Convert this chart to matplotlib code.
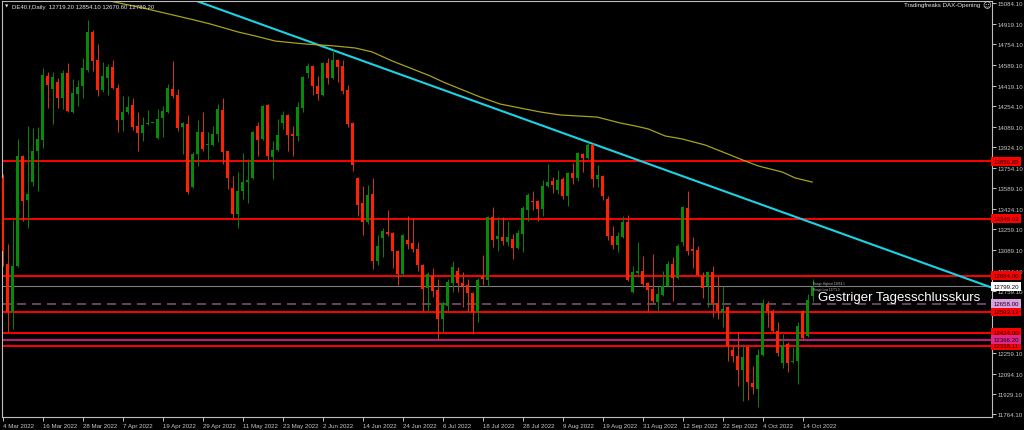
import matplotlib
matplotlib.use('Agg')
import matplotlib.pyplot as plt
import numpy as np
from matplotlib.transforms import blended_transform_factory

plt.rcParams['font.family'] = ['Liberation Sans', 'DejaVu Sans']
plt.rcParams['lines.scale_dashes'] = False

# ---------------- data ----------------
opens = [13674, 12979, 12591, 12963, 13851, 13496, 13641, 13892, 13981, 14498,
         14393, 14449, 14320, 14522, 14207, 14352, 14417, 14546, 14853, 14627,
         14385, 14481, 14570, 14401, 14142, 14207, 14263, 14094, 14037, 14110,
         14118, 13997, 14158, 14207, 14393, 14344, 14086, 14110, 13601, 13868,
         14045, 13940, 13940, 14029, 14223, 13892, 13593, 13383, 13569, 13641,
         13674, 14094, 13989, 14263, 13843, 13900, 14118, 14183, 14029, 14013,
         14239, 14522, 14578, 14417, 14344, 14603, 14481, 14627, 14578, 14385,
         14118, 13674, 13472, 13318, 13544, 13003, 13189, 13237, 13229, 13084,
         12898, 13173, 13149, 13100, 12971, 12785, 12882, 12769, 12535, 12640,
         12825, 12922, 12825, 12809, 12745, 12591, 12882, 12850, 13359, 13181,
         13197, 13157, 13181, 13108, 13221, 13415, 13488, 13488, 13423, 13609,
         13649, 13577, 13666, 13528, 13714, 13674, 13868, 13835, 13940, 13666,
         13690, 13504, 13205, 13132, 13197, 13318, 12753, 12906, 12922, 12825,
         12777, 12672, 12729, 12801, 12979, 12866, 13157, 13431, 13100, 13092,
         12882, 12801, 12914, 12664, 12591, 12632, 12284, 12236, 12123, 12308,
         12018, 11969, 12244, 12656, 12599, 12438, 12179, 12333, 12187, 12195,
         12599, 12397, 12719.2]
highs = [13706, 13140, 13334, 13989, 13860, 14094, 14078, 14086, 14562, 14530,
         14530, 14481, 14546, 14603, 14473, 14465, 14643, 14950, 14869, 14756,
         14611, 14595, 14627, 14433, 14336, 14336, 14320, 14207, 14166, 14223,
         14125, 14231, 14255, 14433, 14619, 14393, 14122, 14183, 13884, 14142,
         14207, 14045, 14094, 14271, 14320, 13895, 13690, 13722, 13876, 13827,
         14053, 14126, 14263, 14271, 13973, 14150, 14215, 14191, 14094, 14288,
         14498, 14603, 14585, 14498, 14611, 14643, 14708, 14635, 14627, 14425,
         14126, 13682, 13609, 13617, 13674, 13213, 13270, 13415, 13237, 13092,
         13221, 13367, 13351, 13157, 12979, 12914, 12947, 12858, 12680, 12858,
         13003, 12955, 12914, 12858, 12753, 12866, 13052, 13367, 13439, 13359,
         13359, 13326, 13221, 13254, 13447, 13552, 13569, 13496, 13658, 13787,
         13682, 13738, 13682, 13722, 13795, 13884, 13876, 13964, 13956, 13779,
         13695, 13528, 13286, 13237, 13367, 13375, 12963, 13157, 13044, 12834,
         13060, 12801, 12922, 13003, 13036, 13141, 13447, 13569, 13197, 13124,
         12914, 12922, 12963, 12882, 12801, 12640, 12317, 12430, 12333, 12317,
         12155, 12292, 12696, 12680, 12615, 12510, 12414, 12349, 12308, 12510,
         12607, 12737, 12854.1]
lows = [12963, 12430, 12454, 12955, 13326, 13270, 13609, 13569, 13916, 14239,
        14110, 14239, 14231, 14207, 14199, 14255, 14320, 14530, 14538, 14336,
        14368, 14344, 14393, 14045, 14053, 14191, 14061, 13892, 13973, 14102,
        14115, 13989, 14005, 14199, 14320, 14053, 13868, 13544, 13593, 13771,
        13892, 13811, 13932, 13964, 13787, 13585, 13351, 13270, 13504, 13472,
        13666, 13851, 13981, 13819, 13666, 13892, 14069, 13892, 13851, 13973,
        14207, 14481, 14344, 14304, 14336, 14433, 14473, 14449, 14352, 14086,
        13730, 13367, 13213, 13302, 12939, 12971, 13036, 13205, 12947, 12809,
        12882, 13100, 13076, 12922, 12599, 12599, 12712, 12373, 12430, 12599,
        12753, 12753, 12632, 12591, 12414, 12510, 12809, 12801, 13116, 13084,
        13132, 13124, 13019, 13100, 13076, 13326, 13415, 13326, 13367, 13601,
        13552, 13544, 13504, 13447, 13625, 13649, 13722, 13827, 13601, 13601,
        13496, 13173, 13100, 13076, 13189, 12842, 12745, 12874, 12793, 12599,
        12664, 12599, 12720, 12793, 12680, 12858, 13124, 13052, 12947, 12882,
        12704, 12632, 12551, 12535, 12470, 12195, 12187, 11993, 11872, 11880,
        11929, 11824, 12236, 12470, 12430, 12236, 12139, 12107, 12179, 12010,
        12365, 12389, 12670.6]
closes = [13084, 12591, 12963, 13851, 13488, 13544, 13892, 13989, 14506, 14425,
          14490, 14320, 14522, 14215, 14360, 14409, 14562, 14853, 14619, 14385,
          14498, 14570, 14401, 14142, 14207, 14247, 14086, 14037, 14102, 14118,
          14122, 14150, 14215, 14401, 14336, 14078, 14118, 13561, 13868, 14045,
          13908, 13948, 14029, 14231, 13884, 13674, 13383, 13569, 13641, 13658,
          14045, 13981, 14255, 13851, 13900, 14021, 14183, 14021, 14013, 14247,
          14490, 14578, 14417, 14352, 14603, 14481, 14627, 14570, 14376, 14110,
          13779, 13456, 13318, 13536, 13003, 13124, 13246, 13221, 13084, 12898,
          13213, 13140, 13100, 12971, 12777, 12898, 12761, 12535, 12656, 12834,
          12955, 12825, 12801, 12745, 12591, 12850, 12858, 13359, 13173, 13205,
          13165, 13197, 13108, 13229, 13431, 13536, 13480, 13423, 13609, 13641,
          13617, 13658, 13528, 13714, 13674, 13876, 13835, 13940, 13666, 13698,
          13528, 13205, 13132, 13205, 13318, 12850, 12914, 12922, 12817, 12769,
          12680, 12737, 12801, 12979, 12866, 13124, 13439, 13084, 13084, 12890,
          12785, 12914, 12664, 12599, 12615, 12317, 12236, 12123, 12228, 12026,
          11985, 12244, 12664, 12599, 12438, 12260, 12325, 12179, 12195, 12478,
          12381, 12688, 12789.2]

xtick_bars = [0, 8, 16, 24, 32, 40, 48, 56, 64, 72, 80, 88, 96, 104, 112, 120,
              128, 136, 144, 152, 160]
xtick_labels = ['4 Mar 2022', '16 Mar 2022', '28 Mar 2022', '7 Apr 2022',
                '19 Apr 2022', '29 Apr 2022', '11 May 2022', '23 May 2022',
                '2 Jun 2022', '14 Jun 2022', '24 Jun 2022', '6 Jul 2022',
                '18 Jul 2022', '28 Jul 2022', '9 Aug 2022', '19 Aug 2022',
                '31 Aug 2022', '12 Sep 2022', '22 Sep 2022', '4 Oct 2022',
                '14 Oct 2022']
ytick_vals = [15084.10, 14919.10, 14754.10, 14589.10, 14419.10, 14254.10,
              14089.10, 13924.10, 13754.10, 13589.10, 13424.10, 13259.10,
              13089.10, 12924.10, 12759.10, 12594.10, 12424.10, 12259.10,
              12094.10, 11929.10, 11764.10]
# tick labels fully covered by level boxes in the reference
ytick_hidden = [12594.10, 12424.10]

# moving average (read points: bar index, price)
ma_bars = [17, 21.5, 28.9, 37.5, 41.5, 47.1, 50.5, 54.5, 60.5, 65.9, 70.5,
           73.9, 77.9, 82.5, 85.5, 88.1, 91.5, 95.5, 99.5, 103.5, 107.5,
           111.5, 114.9, 118.9, 123.5, 126.5, 129.1, 132.5, 135.9, 140.5,
           144.5, 148.5, 151.1, 155.9, 158.5, 161.9]
ma_vals = [15160, 15103, 15039, 14958, 14918, 14853, 14821, 14780, 14756,
           14742, 14724, 14692, 14619, 14546, 14498, 14449, 14393, 14328,
           14271, 14239, 14207, 14183, 14175, 14166, 14118, 14094, 14070,
           14013, 13989, 13940, 13876, 13811, 13771, 13722, 13674, 13641]

# trend line anchors (bar index, price)
trend_bars = [40.46, 197.86]
trend_vals = [15079, 12787.5]

# horizontal levels
red_levels = [13808, 13345.02, 12884.00, 12593.12, 12424.00, 12318.11]
red_level_labels = ['13856.65', '13345.02', '12884.00', '12593.12', '12424.00', '12318.11']
magenta_level = 12366.20
violet_level = 12658.00
bid_level = 12799.20

header = 'DE40.f,Daily  12719.20 12854.10 12670.60 12789.20'

# ---------------- figure ----------------
W, H = 1024, 431
fig = plt.figure(figsize=(W / 100, H / 100), dpi=100, facecolor='black')
L, R, T, B = 2, 992, 1.5, 417.5
ax = fig.add_axes([L / W, 1 - B / H, (R - L) / W, (B - T) / H], facecolor='black')
ax.set_xlim(-0.14, 197.86)
ax.set_ylim(11747.1, 15107.5)

grey = '#BDBDBD'
for s in ax.spines.values():
    s.set_color(grey)
    s.set_linewidth(0.8)

# levels
for lv in red_levels:
    ax.axhline(lv, color='#FF0000', lw=1.4, zorder=1)
ax.axhline(magenta_level, color='#B0226E', lw=1.6, zorder=1)
ax.axhline(bid_level, color='#7F7F7F', lw=0.8, zorder=1)
ax.axhline(violet_level, color='#7A4E7A', lw=1.2, zorder=1, dashes=(6.5, 4.3))

# trend line
ax.axline((trend_bars[0], trend_vals[0]), (trend_bars[1], trend_vals[1]),
          color='#19D3E6', lw=1.5, zorder=2)
# MA
ax.plot(ma_bars, ma_vals, color='#A9A21C', lw=0.9, zorder=2)

# candles
o = np.array(opens); h = np.array(highs); l = np.array(lows); c = np.array(closes)
x = np.arange(len(o))
up = c >= o
wick_cols = np.where(up, '#0A7E0A', '#C9361A')
body_cols = np.where(up, '#078A07', '#FF2200')
ax.vlines(x, l, h, colors=wick_cols, linewidth=0.75, zorder=3)
body_bottom = np.minimum(o, c)
body_h = np.maximum(np.abs(c - o), 7)
ax.bar(x, body_h, bottom=body_bottom, width=0.62, color=body_cols, linewidth=0, zorder=4)

# axes ticks
ax.yaxis.tick_right()
ax.set_yticks(ytick_vals)
ax.set_yticklabels(['' if v in ytick_hidden else f'{v:.2f}' for v in ytick_vals])
ax.tick_params(axis='y', colors='#C8C8C8', labelsize=4.4, length=3, width=0.7, pad=1.2)
ax.set_xticks(xtick_bars)
ax.set_xticklabels(xtick_labels, ha='left')
ax.tick_params(axis='x', colors='#C8C8C8', labelsize=4.4, length=3, width=0.7, pad=1.5)

# price label boxes
tr = blended_transform_factory(ax.transAxes, ax.transData)
xb = 1.0016
def box(val, txt, fc, tc='#1A0000'):
    ax.text(xb, val, txt, transform=tr, ha='left', va='center', fontsize=4.4,
            color=tc, clip_on=False, zorder=20,
            bbox=dict(boxstyle='square,pad=0.35', fc=fc, ec='none'))
for lv, lb in zip(red_levels, red_level_labels):
    box(lv, lb, '#FF0000')
box(magenta_level, '12366.20', '#E0288C')
box(violet_level, '12658.00', '#D9A0E3')
box(bid_level, '12799.20', '#FFFFFF', '#000000')

# texts
fig.text(818 / W, 1 - 297.5 / H, 'Gestriger Tagesschlusskurs', color='white',
         fontsize=9.5, va='center', ha='left')
fig.text(813 / W, 1 - 283.5 / H, 'Range-Highest 12854.1', color='#BBBBBB',
         fontsize=2.2, va='center', ha='left')
fig.text(813 / W, 1 - 290.5 / H, 'Range Low 12771.3', color='#BBBBBB',
         fontsize=2.2, va='center', ha='left')
fig.text(5 / W, 1 - 7 / H, '\u25bc', color='#DDDDDD', fontsize=3.2,
         va='center', ha='left', family='DejaVu Sans')
fig.text(12 / W, 1 - 7 / H, header, color='#E6E6E6', fontsize=4.3,
         va='center', ha='left')
fig.text(980 / W, 1 - 6 / H, 'Tradingfreaks DAX-Opening', color='#E6E6E6',
         fontsize=4.4, va='center', ha='right')
fig.text(982 / W, 1 - 6 / H, '\u263a', color='#E6E6E6', fontsize=6,
         va='center', ha='left', family='DejaVu Sans')

fig.savefig('out.png', dpi=100, facecolor='black')
